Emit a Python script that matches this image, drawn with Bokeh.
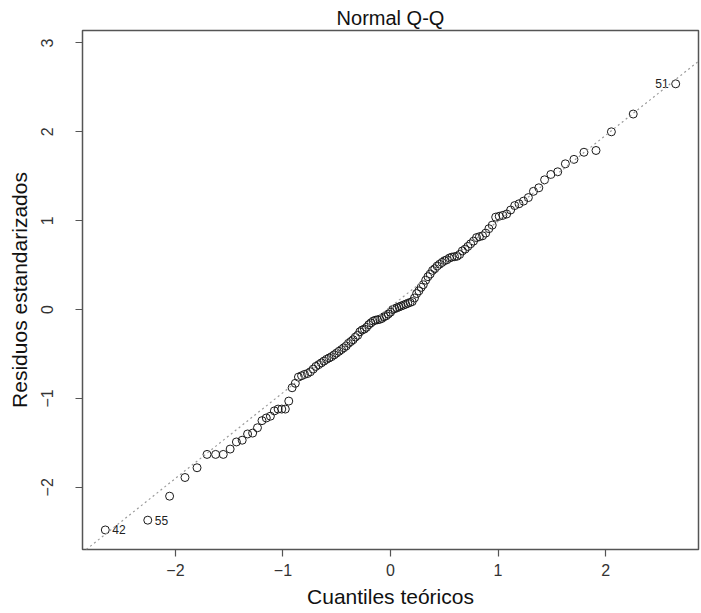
from bokeh.plotting import figure
from bokeh.models import Range1d, FixedTicker, Slope, ColumnDataSource
from bokeh.core.properties import value
from bokeh.embed import file_html
from bokeh.resources import INLINE

# Theoretical normal quantiles (x) for the 125 sorted residuals
theo_q = [
    -2.652, -2.257, -2.054, -1.911, -1.799, -1.706, -1.626, -1.555, -1.491, -1.433,
    -1.379, -1.329, -1.282, -1.237, -1.195, -1.155, -1.117, -1.080, -1.045, -1.011,
    -0.978, -0.946, -0.915, -0.885, -0.856, -0.827, -0.800, -0.772, -0.745, -0.719,
    -0.694, -0.668, -0.643, -0.619, -0.595, -0.571, -0.548, -0.524, -0.502, -0.479,
    -0.456, -0.434, -0.412, -0.391, -0.369, -0.348, -0.327, -0.305, -0.285, -0.264,
    -0.243, -0.223, -0.202, -0.182, -0.161, -0.141, -0.121, -0.100, -0.080, -0.060,
    -0.040, -0.020, 0.000,
    0.020, 0.040, 0.060, 0.080, 0.100, 0.121, 0.141, 0.161, 0.182, 0.202,
    0.223, 0.243, 0.264, 0.285, 0.305, 0.327, 0.348, 0.369, 0.391, 0.412,
    0.434, 0.456, 0.479, 0.502, 0.524, 0.548, 0.571, 0.595, 0.619, 0.643,
    0.668, 0.694, 0.719, 0.745, 0.772, 0.800, 0.827, 0.856, 0.885, 0.915,
    0.946, 0.978, 1.011, 1.045, 1.080, 1.117, 1.155, 1.195, 1.237, 1.282,
    1.329, 1.379, 1.433, 1.491, 1.555, 1.626, 1.706, 1.799, 1.911, 2.054,
    2.257, 2.652,
]

# Sorted standardized residuals (y)
std_resid = [
    -2.48, -2.37, -2.10, -1.89, -1.78, -1.63, -1.63, -1.63, -1.57, -1.49,
    -1.47, -1.40, -1.39, -1.33, -1.25, -1.22, -1.20, -1.14, -1.12, -1.12,
    -1.12, -1.03, -0.88, -0.83, -0.76, -0.745, -0.73, -0.72, -0.70, -0.67,
    -0.64, -0.62, -0.60, -0.58, -0.56, -0.545, -0.53, -0.51, -0.49, -0.47,
    -0.45, -0.43, -0.41, -0.38, -0.36, -0.34, -0.31, -0.29, -0.25, -0.23,
    -0.22, -0.20, -0.17, -0.15, -0.13, -0.12, -0.115, -0.11, -0.10, -0.08,
    -0.07, -0.05, -0.03,
    0.00, 0.01, 0.02, 0.03, 0.04, 0.05, 0.06, 0.07, 0.08, 0.09,
    0.13, 0.18, 0.21, 0.25, 0.28, 0.33, 0.37, 0.40, 0.44, 0.46,
    0.49, 0.51, 0.53, 0.55, 0.56, 0.58, 0.59, 0.595, 0.60, 0.62,
    0.66, 0.68, 0.71, 0.74, 0.77, 0.81, 0.82, 0.83, 0.86, 0.91,
    0.95, 1.04, 1.05, 1.06, 1.075, 1.12, 1.17, 1.19, 1.22, 1.26,
    1.33, 1.37, 1.46, 1.52, 1.55, 1.64, 1.69, 1.77, 1.79, 2.00,
    2.20, 2.54,
]

# Labelled observations: (label, index in sorted order)
label_ids = ["42", "55", "51"]
label_idx = [0, 1, 124]

x_ticks = [-2, -1, 0, 1, 2]
y_ticks = [-2, -1, 0, 1, 2, 3]

# Q-Q reference line
qq_slope = 0.965
qq_intercept = 0.03

FONT = "Liberation Sans"

p = figure(
    width=701, height=613,
    x_range=Range1d(-2.864, 2.864), y_range=Range1d(-2.70, 3.14),
    output_backend="svg", toolbar_location=None,
    min_border_left=82, min_border_right=3, min_border_top=30, min_border_bottom=64,
    title="Normal Q-Q",
)
p.background_fill_color = "white"
p.border_fill_color = "white"
p.outline_line_color = "#555555"
p.outline_line_width = 1.5
p.grid.visible = False

p.title.align = "center"
p.title.text_font = FONT
p.title.text_font_size = "20px"
p.title.text_font_style = "normal"
p.title.text_color = "#111111"
p.title.standoff = 4
p.title.offset = 0

for ax in (p.xaxis[0], p.yaxis[0]):
    ax.axis_line_color = None
    ax.major_tick_line_color = "#555555"
    ax.major_tick_line_width = 1.2
    ax.major_tick_out = 7
    ax.major_tick_in = 0
    ax.minor_tick_line_color = None
    ax.major_label_text_font = FONT
    ax.major_label_text_font_size = "16px"
    ax.major_label_text_color = "#333333"
    ax.axis_label_text_font = FONT
    ax.axis_label_text_font_size = "21px"
    ax.axis_label_text_font_style = "normal"
    ax.axis_label_text_color = "#111111"

p.xaxis[0].ticker = FixedTicker(ticks=x_ticks)
p.yaxis[0].ticker = FixedTicker(ticks=y_ticks)
p.xaxis[0].axis_label = "Cuantiles teóricos"
p.yaxis[0].axis_label = "Residuos estandarizados"
p.xaxis[0].major_label_standoff = 7
p.xaxis[0].axis_label_standoff = 6
p.yaxis[0].major_label_orientation = "parallel"
p.yaxis[0].major_label_standoff = 22
p.yaxis[0].axis_label_standoff = 8

p.add_layout(Slope(gradient=qq_slope, y_intercept=qq_intercept,
                   line_color="#9a9a9a", line_dash="2 3", line_width=1.2))

p.scatter(theo_q, std_resid, marker="circle", size=8,
          fill_color=None, line_color="#1a1a1a", line_width=1)

lab_src = ColumnDataSource(dict(
    x=[theo_q[i] for i in label_idx],
    y=[std_resid[i] for i in label_idx],
    t=label_ids,
    align=["left" if theo_q[i] < 0 else "right" for i in label_idx],
    off=[7 if theo_q[i] < 0 else -7 for i in label_idx],
))
p.text(x="x", y="y", text="t", source=lab_src, text_align="align", x_offset="off",
       text_baseline="middle", text_font=value(FONT), text_font_size="12px",
       text_color="#222222")

open("out.html", "w").write(file_html(p, INLINE))
